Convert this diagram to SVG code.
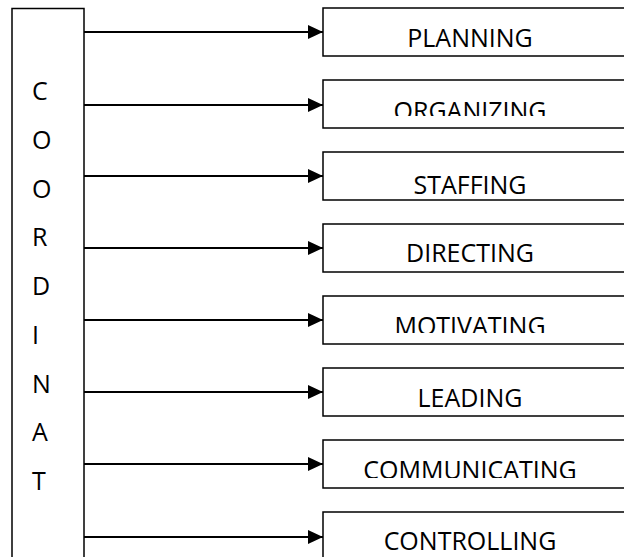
<svg xmlns="http://www.w3.org/2000/svg" width="624" height="557" viewBox="0 0 624 557">
  <style>
    .box { fill: #ffffff; stroke: #000000; stroke-width: 1.5; }
    .lbl { font-family: "Open Sans", "Noto Sans", "Liberation Sans", sans-serif; font-size: 25px; fill: #000000; text-anchor: middle; }
    .vlt { font-family: "Open Sans", "Noto Sans", "Liberation Sans", sans-serif; font-size: 25px; fill: #000000; }
    .conn { stroke: #000000; stroke-width: 2; fill: none; marker-end: url(#ah); }
  </style>
  <defs>
    <marker id="ah" markerUnits="userSpaceOnUse" markerWidth="16" markerHeight="14" refX="15" refY="7" orient="auto">
      <path d="M0,0 L15,7 L0,14 Z" fill="#000000"/>
    </marker>
    <clipPath id="c2"><rect x="323" y="80" width="301" height="36"/></clipPath>
    <clipPath id="c5"><rect x="323" y="296" width="301" height="37"/></clipPath>
    <clipPath id="c7"><rect x="323" y="440" width="301" height="38"/></clipPath>
  </defs>

  <g id="coordinat">
    <rect class="box" x="12" y="8.5" width="72" height="560"/>
    <text class="vlt" x="32" y="100">C</text>
    <text class="vlt" x="32" y="148.75">O</text>
    <text class="vlt" x="32" y="197.5">O</text>
    <text class="vlt" x="32" y="246.25">R</text>
    <text class="vlt" x="32" y="295">D</text>
    <text class="vlt" x="32" y="343.75">I</text>
    <text class="vlt" x="32" y="392.5">N</text>
    <text class="vlt" x="32" y="441.25">A</text>
    <text class="vlt" x="32" y="490">T</text>
  </g>

  <g id="planning">
    <rect class="box" x="323" y="8" width="310" height="48"/>
    <text class="lbl" x="470" y="47">PLANNING</text>
  </g>
  <g id="organizing">
    <rect class="box" x="323" y="80" width="310" height="48"/>
    <text class="lbl" x="470" y="119.5" clip-path="url(#c2)">ORGANIZING</text>
  </g>
  <g id="staffing">
    <rect class="box" x="323" y="152" width="310" height="48"/>
    <text class="lbl" x="470" y="194">STAFFING</text>
  </g>
  <g id="directing">
    <rect class="box" x="323" y="224" width="310" height="48"/>
    <text class="lbl" x="470" y="262">DIRECTING</text>
  </g>
  <g id="motivating">
    <rect class="box" x="323" y="296" width="310" height="48"/>
    <text class="lbl" x="470" y="335" clip-path="url(#c5)">MOTIVATING</text>
  </g>
  <g id="leading">
    <rect class="box" x="323" y="368" width="310" height="48"/>
    <text class="lbl" x="470" y="407">LEADING</text>
  </g>
  <g id="communicating">
    <rect class="box" x="323" y="440" width="310" height="48"/>
    <text class="lbl" x="470" y="479" clip-path="url(#c7)">COMMUNICATING</text>
  </g>
  <g id="controlling">
    <rect class="box" x="323" y="512" width="310" height="48"/>
    <text class="lbl" x="470" y="550">CONTROLLING</text>
  </g>

  <g id="connectors">
    <line class="conn" x1="84" y1="32" x2="323" y2="32"/>
    <line class="conn" x1="84" y1="105" x2="323" y2="105"/>
    <line class="conn" x1="84" y1="176" x2="323" y2="176"/>
    <line class="conn" x1="84" y1="248" x2="323" y2="248"/>
    <line class="conn" x1="84" y1="320" x2="323" y2="320"/>
    <line class="conn" x1="84" y1="392" x2="323" y2="392"/>
    <line class="conn" x1="84" y1="464" x2="323" y2="464"/>
    <line class="conn" x1="84" y1="537" x2="323" y2="537"/>
  </g>
</svg>
